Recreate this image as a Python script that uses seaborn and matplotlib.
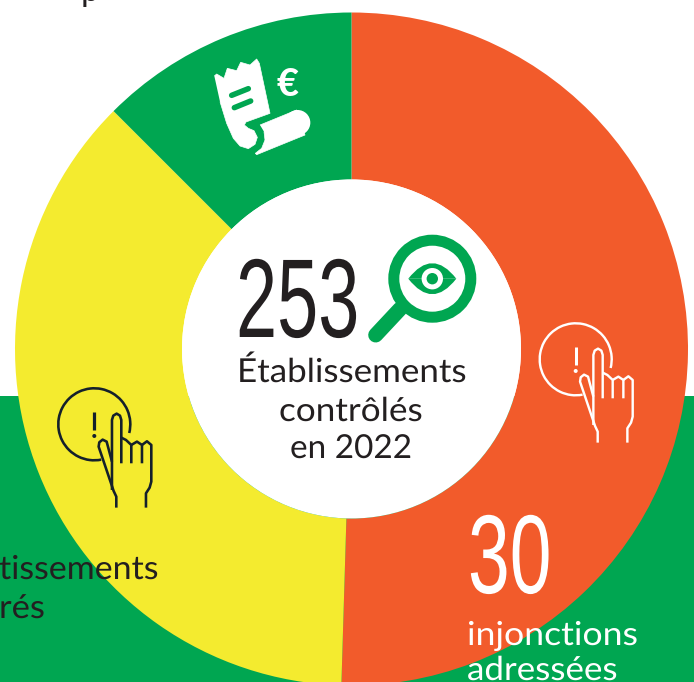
import matplotlib
matplotlib.use("Agg")
import matplotlib.pyplot as plt
import seaborn as sns
from matplotlib.patches import Arc, Circle, PathPatch
from matplotlib.path import Path
from matplotlib.patheffects import AbstractPathEffect
from matplotlib.transforms import Affine2D

# Slice values and labels of the ring
slice_names = ["injonctions", "avertissements", "amendes"]
slice_values = [30, 22, 7.43]
slice_colors = ["#F25B2B", "#F4EB2F", "#00A651"]
total_checked = "253"
injunctions = "30"
center_lines = ["Établissements", "contrôlés", "en 2022"]
right_lines = ["injonctions", "adressées"]
left_lines = ["tissements", "rés"]
top_fragment = "p"

INK = "#231F20"
GREEN = "#00A651"
W, H = 694, 682

sns.set_theme(style="white")
plt.rcParams["font.family"] = ["Lato", "DejaVu Sans"]
palette = sns.color_palette(slice_colors)

fig = plt.figure(figsize=(W / 100, H / 100), dpi=100, facecolor="white")
ax = fig.add_axes([0, 0, 1, 1])


def Y(y):
    """Convert a top-down pixel row to the axes' upward y."""
    return H - y


def px(v):
    """Convert pixels to points for line widths and font sizes."""
    return v * 72 / 100


class Condensed(AbstractPathEffect):
    """Rescale a text's glyphs horizontally around its left anchor."""

    def __init__(self, sx):
        self.sx = sx

    def draw_path(self, renderer, gc, tpath, affine, rgbFace=None):
        renderer.draw_path(gc, tpath, Affine2D().scale(self.sx, 1) + affine, rgbFace)


# Green band behind the lower part of the ring
ax.axhspan(0, Y(396), color=GREEN, lw=0, zorder=0)

# Ring
ax.pie(
    slice_values,
    colors=palette,
    startangle=90,
    counterclock=False,
    center=(351.5, Y(349)),
    radius=336.5,
    wedgeprops=dict(width=167, linewidth=0),
    frame=False,
)
ax.set_xlim(0, W)
ax.set_ylim(0, H)
ax.set_aspect("auto")
ax.set_axis_off()
sns.despine(ax=ax, left=True, bottom=True)

# Centre of the ring stays white over the band
ax.add_patch(Circle((351.5, Y(349)), 169.5, color="white", lw=0, zorder=2))


def stroke(points, color, lw, cap="butt"):
    xs = [p[0] for p in points]
    ys = [Y(p[1]) for p in points]
    ax.plot(xs, ys, color=color, lw=px(lw), solid_capstyle=cap,
            solid_joinstyle="round", zorder=4)


def hand_icon(cx, cy, color, lw):
    """Pointing hand pressing an alert button, anchored on the button's centre."""
    ax.add_patch(Arc((cx, Y(cy)), 72, 72, theta1=-14, theta2=281, color=color, lw=px(lw), zorder=4))

    def m(pts):
        return [(cx + (a - 377) / 3, cy + (b - 178) / 3) for a, b in pts]

    stroke(m([(443, 428), (443, 395), (435, 378), (390, 245), (392, 232), (402, 224), (414, 230), (430, 290)]), color, lw)
    stroke(m([(430, 375), (430, 165), (434, 152), (444, 146), (454, 152), (458, 165), (458, 295)]), color, lw)
    stroke(m([(458, 218), (472, 225), (488, 240), (488, 295)]), color, lw)
    stroke(m([(488, 240), (505, 230), (520, 240), (520, 295)]), color, lw)
    stroke(m([(520, 240), (535, 229), (548, 240), (548, 350), (543, 368), (532, 385), (532, 428)]), color, lw)
    stroke(m([(377, 142), (377, 195)]), color, lw + 0.6)
    ax.add_patch(Circle((cx, Y(cy + 35 / 3)), 2.0, color=color, lw=0, zorder=4))


hand_icon(575.7, 359.3, "white", 2.4)
hand_icon(94.3, 424.3, "#14202B", 2.6)

# Magnifying glass with an eye
gx, gy = 432.3, 278.7
ax.add_patch(Circle((gx, Y(gy)), 38.5, fill=False, ec=GREEN, lw=px(11), zorder=4))
stroke([(400, 309), (375.7, 335)], GREEN, 15, cap="round")
ax.add_patch(PathPatch(Path([(gx - 24, Y(gy)), (gx, Y(gy - 31)), (gx + 24, Y(gy))], [Path.MOVETO, Path.CURVE3, Path.CURVE3]), fc=GREEN, lw=0, zorder=4))
ax.add_patch(PathPatch(Path([(gx - 24, Y(gy)), (gx, Y(gy + 31)), (gx + 24, Y(gy))], [Path.MOVETO, Path.CURVE3, Path.CURVE3]), fc=GREEN, lw=0, zorder=4))
ax.add_patch(Circle((gx, Y(gy)), 10.7, color="white", lw=0, zorder=5))
ax.add_patch(Circle((gx, Y(gy)), 5.7, color=GREEN, lw=0, zorder=6))


# Receipt pictogram in the green slice
def shape(pts, color="white", z=4):
    scaled = [(a / 3, Y(b / 3)) for a, b in pts]
    codes = [Path.MOVETO] + [Path.LINETO] * (len(scaled) - 1)
    ax.add_patch(PathPatch(Path(scaled, codes), fc=color, ec=color, lw=0.5, joinstyle="round", zorder=z))


shape([(643, 228), (650, 222), (672, 235), (682, 205), (710, 212), (722, 187), (750, 195), (770, 177),
       (778, 190), (810, 340), (738, 366), (733, 375), (745, 385), (762, 392), (772, 412), (765, 433),
       (745, 446), (720, 438), (700, 415), (680, 370), (660, 305)])
shape([(780, 375), (890, 330), (915, 405), (770, 464), (766, 460), (785, 445), (795, 420), (792, 395)])
ax.add_patch(Circle((893 / 3, Y(368 / 3)), 38 / 3, color="white", lw=0, zorder=4))
for (a, b), (c, d) in [((695 / 3, 286 / 3), (745 / 3, 266 / 3)), ((703 / 3, 323 / 3), (752 / 3, 303 / 3))]:
    stroke([(a, b), (c, d)], GREEN, 5.5, cap="round")
ax.text(288, Y(96), "€", color="white", fontsize=px(38), fontweight="black", ha="center", va="baseline", zorder=5)

# Headline figures
ax.text(236, Y(337), total_checked, color=INK, fontsize=px(112), family="Liberation Sans",
        va="baseline", ha="left", path_effects=[Condensed(0.66)], zorder=6)
ax.text(468, Y(593), injunctions, color="white", fontsize=px(112), family="Liberation Sans",
        va="baseline", ha="left", path_effects=[Condensed(0.67)], zorder=6)


def caption(x, base, line, color, sx):
    ax.text(x, Y(base), line, color=color, fontsize=px(33), ha="left", va="baseline",
            path_effects=[Condensed(sx)], zorder=6)


# Captions
caption(237, 382, center_lines[0], INK, 1.06)
caption(279, 421, center_lines[1], INK, 1.065)
caption(290, 458, center_lines[2], INK, 1.01)
caption(467, 645, right_lines[0], "white", 1.08)
caption(467, 680, right_lines[1], "white", 1.06)
caption(-1, 579, left_lines[0], INK, 1.03)
caption(-1, 618, left_lines[1], INK, 1.05)
ax.text(81, Y(1), top_fragment, color=INK, fontsize=px(33), ha="left", va="baseline", zorder=6)

fig.savefig("out.png", dpi=100)
